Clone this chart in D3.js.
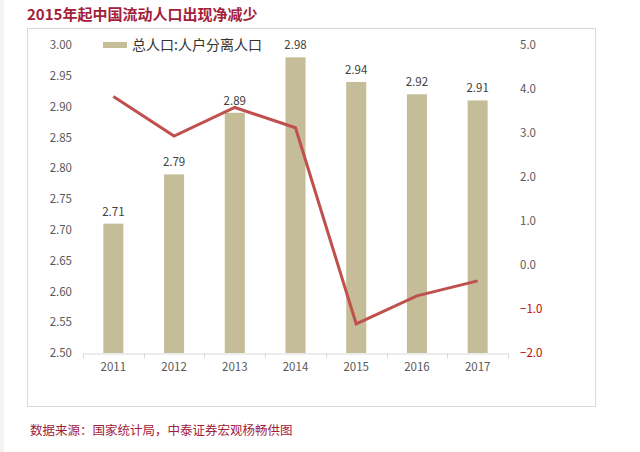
<!DOCTYPE html>
<html><head><meta charset="utf-8">
<script src="https://cdn.jsdelivr.net/npm/d3@7"></script>
<style>body{margin:0;background:#fff;} svg{display:block;}</style>
</head><body>
<svg id="c" width="640" height="452"></svg>
<script>
const years = ["2011","2012","2013","2014","2015","2016","2017"];
const totalMigrants = [2.71, 2.79, 2.89, 2.98, 2.94, 2.92, 2.91];
const growthRate = [3.83, 2.93, 3.58, 3.12, -1.34, -0.70, -0.36];
const leftTicks = [2.50,2.55,2.60,2.65,2.70,2.75,2.80,2.85,2.90,2.95,3.00];
const rightTicks = [-2,-1,0,1,2,3,4,5];
const titleText = "2015年起中国流动人口出现净减少";
const legendText = "总人口:人户分离人口";
const sourceText = "数据来源：国家统计局，中泰证券宏观杨畅供图";

const svg = d3.select("#c");
const font = "'Microsoft YaHei','Noto Sans CJK SC','DejaVu Sans',sans-serif";
svg.append("rect").attr("x",0).attr("y",0).attr("width",4).attr("height",452).attr("fill","#f3f3f3");

svg.append("text").attr("x",27).attr("y",20).text(titleText)
  .attr("font-family",font).attr("font-size",15).attr("font-weight","bold").attr("fill","#a3203a");

svg.append("rect").attr("x",27.5).attr("y",28.5).attr("width",568).attr("height",378)
  .attr("fill","#fff").attr("stroke","#d9d9d9");

const x = d3.scaleBand().domain(years).range([83,508]).paddingInner(0.67).paddingOuter(0.335);
const yL = d3.scaleLinear().domain([2.5,3.0]).range([353,45]);
const yR = d3.scaleLinear().domain([-2,5]).range([353,45]);

// bars
svg.append("g").selectAll("rect").data(years).join("rect")
  .attr("x",d=>x(d)).attr("width",x.bandwidth())
  .attr("y",(d,i)=>yL(totalMigrants[i])).attr("height",(d,i)=>yL(2.5)-yL(totalMigrants[i]))
  .attr("fill","#c4bd97");

// bar labels
svg.append("g").selectAll("text").data(years).join("text")
  .attr("x",d=>x(d)+x.bandwidth()/2).attr("y",(d,i)=>yL(totalMigrants[i])-8)
  .attr("text-anchor","middle").attr("font-family",font).attr("font-size",11.5).attr("fill","#404040")
  .text((d,i)=>totalMigrants[i].toFixed(2));

// line
const line = d3.line().x((d,i)=>x(years[i])+x.bandwidth()/2).y(d=>yR(d));
svg.append("path").datum(growthRate).attr("d",line).attr("fill","none")
  .attr("stroke","#c0504d").attr("stroke-width",3).attr("stroke-linejoin","miter");

// x axis
const xAxis = d3.axisBottom(x).tickSize(0).tickPadding(9);
const gx = svg.append("g").attr("transform","translate(0,353.5)").call(xAxis);
gx.select(".domain").attr("stroke","#d9d9d9");
gx.selectAll("text").attr("font-family",font).attr("font-size",11.5).attr("fill","#595959");
const bounds = [83].concat(years.map(d=>x(d)+x.bandwidth()/2+x.step()/2));
gx.selectAll("line.sep").data(bounds).join("line").attr("class","sep")
  .attr("x1",d=>Math.round(d)+0.5).attr("x2",d=>Math.round(d)+0.5).attr("y1",0).attr("y2",5).attr("stroke","#d9d9d9");

// left axis
const gl = svg.append("g").attr("transform","translate(72,0)")
  .call(d3.axisLeft(yL).tickValues(leftTicks).tickFormat(d3.format(".2f")).tickSize(0).tickPadding(0));
gl.select(".domain").remove();
gl.selectAll("text").attr("font-family",font).attr("font-size",11.5).attr("fill","#595959");

// right axis
const gr = svg.append("g").attr("transform","translate(520,0)")
  .call(d3.axisRight(yR).tickValues(rightTicks).tickFormat(d3.format(".1f")).tickSize(0).tickPadding(0));
gr.select(".domain").remove();
gr.selectAll("text").attr("font-family",font).attr("font-size",11.5)
  .attr("fill",d=>d<0?"#c00000":"#595959");

// legend
svg.append("rect").attr("x",103).attr("y",42).attr("width",24).attr("height",6).attr("fill","#c4bd97");
svg.append("text").attr("x",132).attr("y",49.5).text(legendText)
  .attr("font-family",font).attr("font-size",14).attr("fill","#333");

// source
svg.append("text").attr("x",30).attr("y",435).text(sourceText)
  .attr("font-family",font).attr("font-size",12.5).attr("fill","#a3203a");
</script>
</body></html>
